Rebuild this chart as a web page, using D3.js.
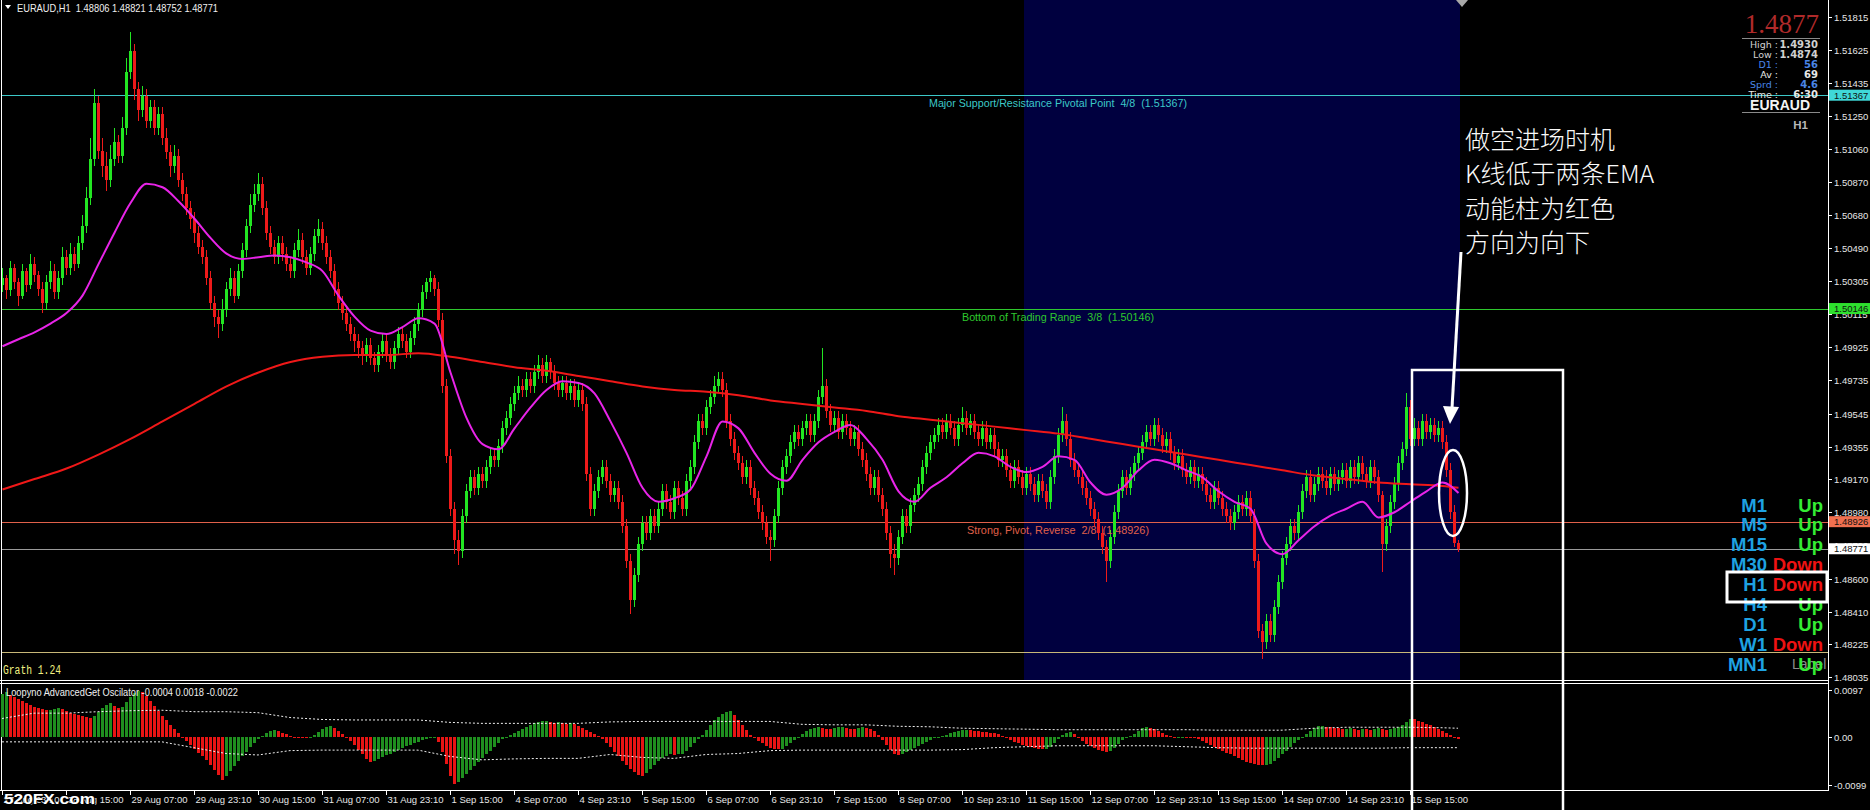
<!DOCTYPE html>
<html><head><meta charset="utf-8">
<script src="https://cdn.jsdelivr.net/npm/d3@7"></script>
<style>html,body{margin:0;padding:0;background:#000;overflow:hidden}svg{display:block}</style>
</head><body><svg id="c" width="1870" height="810"></svg>
<script>
// ---------- DATA (prices in pips above 1.48000) ----------
const BASE = 1.48, PIP = 0.0001;
const opens = [
228,232,225,238,230,222,236,228,240,234, 226,218,230,236,224,232,244,238,246,240,
252,262,278,300,332,305,296,288,300,310, 302,318,350,362,340,328,336,322,330,318,
326,312,304,296,302,288,280,272,266,258, 250,244,232,218,210,206,214,226,232,222,
236,248,262,274,280,286,272,258,250,244, 252,246,240,236,248,254,244,238,246,256,
260,252,244,236,226,218,212,206,200,196, 192,188,194,186,182,190,196,188,184,192,
200,196,190,198,206,214,224,230,232,226, 208,170,130,100,82,76,96,110,118,112,
120,116,124,130,128,136,146,152,160,166, 170,168,174,170,178,182,176,184,178,172,
168,172,166,170,162,168,160,120,100,110, 118,124,116,108,112,104,90,70,48,62,
80,92,86,96,90,100,110,104,98,112, 106,100,116,124,138,150,146,158,164,170,
174,168,150,140,132,126,118,124,112,106, 98,92,84,82,96,112,124,130,138,144,
140,146,150,142,150,164,170,156,148,152, 144,150,146,140,144,134,128,120,112,118,
108,100,86,74,72,84,96,90,102,108, 114,124,132,138,142,148,144,150,146,140,
148,152,146,150,144,140,146,138,142,134, 128,130,122,116,124,118,112,120,114,108,
116,110,104,118,130,142,150,140,128,122, 118,112,106,100,94,86,78,70,84,98,
110,118,112,120,126,132,138,144,140,148, 142,136,140,132,126,130,122,118,124,116,
120,114,108,104,112,106,100,96,92,98, 104,100,106,96,70,30,24,36,28,44,
58,72,80,90,86,98,110,118,108,114, 120,116,112,120,114,118,122,116,124,118,
126,120,116,124,118,108,80,90,104,114, 126,134,158,140,146,140,150,144,148,142,
146,138,122,98,80.6];
const highs = [
238,234,242,240,232,240,238,246,244,236, 230,234,242,240,236,250,248,252,250,256,
268,284,312,340,336,312,304,308,318,314, 324,358,373,366,344,342,340,334,334,330,
330,318,308,308,306,292,284,276,270,262, 254,248,236,222,214,220,230,238,236,240,
252,266,280,286,292,290,276,262,254,256, 256,250,244,252,260,258,248,250,260,266,
264,256,248,240,230,222,216,210,204,200, 196,198,198,190,194,200,200,192,196,204,
204,200,202,210,218,228,232,236,234,230, 212,174,134,104,88,100,114,122,122,124,
124,128,134,134,140,150,156,164,170,176, 174,178,178,182,188,186,188,186,182,176,
176,176,174,174,172,172,164,124,114,122, 128,128,120,116,116,108,94,74,66,84,
96,96,100,100,104,114,114,108,116,116, 110,120,128,142,154,154,162,168,176,178,
178,172,154,144,136,130,128,128,116,110, 102,96,88,100,116,128,134,142,148,148,
150,154,154,154,168,192,174,160,156,156, 154,154,150,148,148,138,132,124,122,122,
112,104,90,80,88,100,100,106,112,118, 128,136,142,146,152,152,154,154,150,152,
158,156,154,154,148,150,150,146,146,138, 134,134,126,128,128,122,124,124,118,120,
120,114,122,134,146,158,154,144,132,126, 122,116,110,104,98,90,82,88,102,114,
122,122,124,130,136,142,148,148,152,152, 146,144,144,136,134,134,126,128,128,124,
124,118,112,116,116,110,104,100,102,108, 108,110,110,100,74,34,40,40,48,62,
76,84,94,94,102,114,122,122,118,124, 124,122,124,124,122,126,126,128,128,130,
130,124,128,128,122,110,94,108,118,130, 138,166,162,152,150,154,154,152,152,150,
150,142,126,102,82.1];
const lows = [
224,220,222,226,216,220,224,226,230,222, 212,214,226,220,220,228,234,234,236,238,
248,258,274,296,300,290,282,284,296,298, 298,314,346,334,322,324,318,318,314,314,
308,300,290,292,284,276,268,260,252,246, 240,228,214,204,198,202,210,222,218,220,
232,244,258,270,276,268,254,246,240,240, 242,236,232,232,244,240,234,234,242,252,
248,240,232,222,214,208,202,196,190,186, 182,184,182,178,178,186,184,180,180,188,
192,186,186,194,202,210,220,224,222,204, 166,126,96,74,68,72,92,106,108,108,
112,112,120,124,124,132,142,148,156,162, 164,164,166,166,174,172,172,174,168,164,
164,162,162,158,158,156,116,96,96,106, 114,112,104,104,100,86,66,40,44,58,
76,82,82,86,86,96,100,94,94,102, 96,96,112,120,134,142,142,154,160,166,
164,146,136,128,122,114,114,108,102,94, 88,80,70,78,92,108,120,126,134,136,
136,142,138,138,146,160,152,144,144,140, 140,142,136,136,130,124,116,108,108,104,
96,82,66,62,68,80,86,86,98,104, 110,120,128,134,138,140,140,142,136,136,
144,142,142,140,136,136,134,134,130,124, 124,118,112,112,114,108,108,110,104,104,
106,100,100,114,126,138,136,124,118,114, 108,102,96,90,82,74,58,66,80,94,
106,108,108,116,122,128,134,136,136,138, 132,132,128,122,122,118,114,114,112,112,
110,104,100,100,102,96,92,88,88,94, 96,96,92,66,26,14,20,24,24,40,
54,68,76,82,82,94,106,104,104,110, 112,108,108,110,110,114,112,112,114,114,
116,112,112,114,104,64,76,86,100,110, 122,130,136,136,136,136,140,140,138,138,
134,118,94,78,75.2];
const closes = [
232,225,238,230,222,236,228,240,234,226, 218,230,236,224,232,244,238,246,240,252,
262,278,300,332,305,296,288,300,310,302, 318,350,362,340,328,336,322,330,318,326,
312,304,296,302,288,280,272,266,258,250, 244,232,218,210,206,214,226,232,222,236,
248,262,274,280,286,272,258,250,244,252, 246,240,236,248,254,244,238,246,256,260,
252,244,236,226,218,212,206,200,196,192, 188,194,186,182,190,196,188,184,192,200,
196,190,198,206,214,224,230,232,226,208, 170,130,100,82,76,96,110,118,112,120,
116,124,130,128,136,146,152,160,166,170, 168,174,170,178,182,176,184,178,172,168,
172,166,170,162,168,160,120,100,110,118, 124,116,108,112,104,90,70,48,62,80,
92,86,96,90,100,110,104,98,112,106, 100,116,124,138,150,146,158,164,170,174,
168,150,140,132,126,118,124,112,106,98, 92,84,82,96,112,124,130,138,144,140,
146,150,142,150,164,170,156,148,152,144, 150,146,140,144,134,128,120,112,118,108,
100,86,74,72,84,96,90,102,108,114, 124,132,138,142,148,144,150,146,140,148,
152,146,150,144,140,146,138,142,134,128, 130,122,116,124,118,112,120,114,108,116,
110,104,118,130,142,150,140,128,122,118, 112,106,100,94,86,78,70,84,98,110,
118,112,120,126,132,138,144,140,148,142, 136,140,132,126,130,122,118,124,116,120,
114,108,104,112,106,100,96,92,98,104, 100,106,96,70,30,24,36,28,44,58,
72,80,90,86,98,110,118,108,114,120, 116,112,120,114,118,122,116,124,118,126,
120,116,124,118,108,80,90,104,114,126, 134,158,140,146,140,150,144,148,142,146,
138,122,98,80.6,77.1];
// slow EMA (red), one value every 8 bars, last value on the last bar
const emaSlow = [111,117,123,131,140,150,160,170,178,184,187,188,188,189,187,184,181,179,176,173,170,168,167,165,162,160,158,156,153,151,149,147,145,143,140,137,134,131,128,125,122,119,117,115,114,113,112];
// fast EMA (magenta), one value every 4 bars, last value on the last bar
const emaFast = [193,197,201,206,212,222,240,258,275,286, 284,276,266,255,246,243,244,245,244,241,
236,222,210,202,200,204,209,206,178,152, 137,134,146,158,168,173,172,166,150,132,
112,104,106,111,130,150,146,132,120,116, 128,138,144,148,140,128,110,104,112,118,
126,132,130,124,121,124,130,128,115,108, 112,122,128,126,122,118,110,104,100,80,
74,82,90,96,100,104,95,98,104,110, 115,109];
// oscillator histogram, pips, one per bar
const osc = [
88,92,86,82,78,74,70,66,62,60, 57,55,56,58,60,57,53,50,48,46,
44,42,40,44,52,60,66,70,64,60, 62,72,82,90,95,92,84,74,64,54,
44,34,25,16,8,0,-8,-16,-24,-32, -40,-48,-58,-68,-78,-89,-80,-70,-60,-50,
-40,-30,-20,-12,-5,2,8,12,15,12, 9,6,3,1,-1,-2,-3,-1,4,10,
16,20,22,18,12,7,0,-8,-16,-26, -36,-46,-52,-50,-46,-42,-38,-34,-30,-26,
-22,-19,-16,-13,-10,-7,-4,-2,0,-10, -30,-55,-80,-97,-92,-85,-76,-68,-60,-52,
-44,-36,-28,-20,-12,-4,0,4,8,12, 16,20,24,28,30,32,33,30,28,31,
29,26,28,26,22,18,14,10,6,2, -5,-12,-20,-30,-40,-50,-58,-65,-72,-78,
-80,-74,-66,-58,-50,-44,-40,-36,-38,-36, -34,-28,-20,-12,-4,4,14,24,34,42,
48,52,53,45,35,25,15,5,-2,-8, -13,-18,-22,-24,-25,-24,-18,-12,-6,0,
6,12,16,18,20,19,17,16,18,20, 21,19,17,16,18,20,19,16,12,4,
-6,-16,-26,-34,-37,-34,-30,-26,-22,-18, -14,-10,-6,-3,-1,2,5,8,11,13,
14,15,14,13,12,11,10,9,8,6, 3,-2,-6,-10,-13,-16,-19,-21,-23,-24,
-25,-24,-20,-12,-4,4,8,10,6,-2, -8,-14,-19,-23,-26,-28,-30,-28,-22,-14,
-6,-2,2,6,12,18,20,19,16,12, 8,5,2,-1,0,1,-1,-2,-3,-5,
-8,-12,-16,-20,-24,-28,-32,-36,-40,-44, -48,-52,-54,-56,-57,-58,-58,-55,-50,-44,
-36,-28,-20,-12,-6,0,6,12,18,22, 22,21,20,19,18,16,17,18,16,15,
17,16,15,17,18,16,15,17,18,20, 24,30,37,36,33,30,27,24,20,16,
12,8,4,0,-4];
// oscillator bands, one value every 8 bars, last value on the last bar
const oscUpper = [38,49,49,52,54,55,52,52,50,40,36,35,35,35,30,28,28,28,28,31,32,32,32,32,32,26,25,25,22,21,18,17,16,15,15,15,15,15,14,14,14,18,20,20,20,19,18];
const oscLower = [-10,-10,-10,-10,-10,-10,-22,-34,-37,-28,-27,-27,-27,-27,-40,-47,-45,-44,-44,-36,-42,-44,-36,-34,-28,-27,-27,-27,-27,-27,-26,-22,-20,-18,-18,-18,-18,-20,-22,-23,-23,-23,-23,-23,-22,-22,-22];

const timeLabels = ["27 Aug 23:10","28 Aug 15:00","29 Aug 07:00","29 Aug 23:10","30 Aug 15:00","31 Aug 07:00","31 Aug 23:10","1 Sep 15:00","4 Sep 07:00","4 Sep 23:10","5 Sep 15:00","6 Sep 07:00","6 Sep 23:10","7 Sep 15:00","8 Sep 07:00","10 Sep 23:10","11 Sep 15:00","12 Sep 07:00","12 Sep 23:10","13 Sep 15:00","14 Sep 07:00","14 Sep 23:10","15 Sep 15:00"];
const barsPerLabel = 16;
const priceTicks = [1.51815,1.51625,1.51435,1.51250,1.51060,1.50870,1.50680,1.50490,1.50305,1.50115,1.49925,1.49735,1.49545,1.49355,1.49170,1.48980,1.48790,1.48600,1.48410,1.48225,1.48035];
const oscTicks = [0.0097, 0.0, -0.0099];
const oscTickLabels = ["0.0097","0.00","-0.0099"];
const levels = [
  {p:1.51367, color:"#3cc8c8", label:"Major Support/Resistance Pivotal Point  4/8  (1.51367)", box:"#3fd8d8"},
  {p:1.50146, color:"#2ec82e", label:"Bottom of Trading Range  3/8  (1.50146)", box:"#2ee02e"},
  {p:1.48926, color:"#e0604a", label:"Strong, Pivot, Reverse  2/8  (1.48926)", box:"#f07050"},
  {p:1.48771, color:"#9a9a9a", label:null, box:"#ffffff"},
  {p:1.48180, color:"#c8b878", label:null, box:null}
];
const sessionBars = [256, 364];
const tfNames = ["M1","M5","M15","M30","H1","H4","D1","W1","MN1"];
const tfTrend = ["Up","Up","Up","Down","Down","Up","Up","Down","Up"];
const infoLabels = ["High :","Low :","D1 :","Av :","Sprd :","Time :"];
const infoValues = ["1.4930","1.4874","56","69","4.6","6:30"];
const infoColors = ["#d0d0d0","#d0d0d0","#4a86e8","#e8e8e8","#4a86e8","#e8e8e8"];
const noteLines = ["做空进场时机","K线低于两条EMA","动能柱为红色","方向为向下"];

// ---------- DRAWING ----------
const P = v => BASE + v * PIP;
const svg = d3.select("#c");
svg.append("rect").attr("width",1870).attr("height",810).attr("fill","#000");
const N = closes.length;
const x = d3.scaleLinear().domain([0,457]).range([2,1830]);
const y = d3.scaleLinear().domain([1.48014,1.51912]).range([681,0]);
const yo = d3.scaleLinear().domain([-0.0109,0.0111]).range([790,683]);
const SANS = "'Liberation Sans', Arial, sans-serif";

svg.append("defs").append("clipPath").attr("id","mainclip").append("rect").attr("x",2).attr("y",0).attr("width",1826).attr("height",680);
const main = svg.append("g").attr("clip-path","url(#mainclip)");

// session shading
main.append("rect").attr("x",x(sessionBars[0])-2).attr("y",0)
  .attr("width",x(sessionBars[1])-x(sessionBars[0])+4).attr("height",681).attr("fill","#00003f");

// level lines
levels.forEach(l=>{
  main.append("line").attr("x1",0).attr("x2",1828).attr("y1",Math.round(y(l.p))+0.5).attr("y2",Math.round(y(l.p))+0.5)
    .attr("stroke",l.color).attr("stroke-width",1);
});

// candles
const cg = main.append("g").attr("shape-rendering","crispEdges");
for(let i=0;i<N;i++){
  const o=P(opens[i]), c=P(closes[i]);
  const hi=P(Math.max(highs[i],opens[i],closes[i])), lo=P(Math.min(lows[i],opens[i],closes[i]));
  const col = c>=o ? "#22e622" : "#ee1a1a";
  const xc = x(i);
  cg.append("rect").attr("x",xc).attr("y",y(hi)).attr("width",1).attr("height",Math.max(1,y(lo)-y(hi))).attr("fill",col);
  const top=y(Math.max(o,c)), bot=y(Math.min(o,c));
  cg.append("rect").attr("x",xc-1).attr("y",top).attr("width",3).attr("height",Math.max(1,bot-top)).attr("fill",col);
}

// EMAs
const barOf = (i,step)=>Math.min(i*step,N-1);
const line = d3.line().curve(d3.curveMonotoneX);
main.append("path").attr("d",line(emaSlow.map((v,i)=>[x(barOf(i,8))+0.5,y(P(v))])))
  .attr("fill","none").attr("stroke","#f01818").attr("stroke-width",2);
main.append("path").attr("d",line(emaFast.map((v,i)=>[x(barOf(i,4))+0.5,y(P(v))])))
  .attr("fill","none").attr("stroke","#e824e8").attr("stroke-width",2);

// level labels
function tl(g,xx,yy,s,o){
  const t=g.append("text").attr("x",xx).attr("y",yy).text(s)
    .attr("font-family",o.family||SANS).attr("font-size",o.size||11).attr("fill",o.fill||"#fff")
    .style("white-space","pre");
  if(o.anchor) t.attr("text-anchor",o.anchor);
  if(o.weight) t.attr("font-weight",o.weight);
  if(o.len){ t.attr("textLength",o.len).attr("lengthAdjust","spacingAndGlyphs"); }
  return t;
}
const lvlLen = [258,192,182];
levels.forEach((l,i)=>{
  if(!l.label) return;
  tl(main,1058-lvlLen[i]/2,y(l.p)+12,l.label,{size:10.5,fill:l.color,len:lvlLen[i]});
});

// panel frames
const fr = svg.append("g").attr("fill","none").attr("stroke","#fff").attr("stroke-width",1).attr("shape-rendering","crispEdges");
fr.append("line").attr("x1",1.5).attr("x2",1.5).attr("y1",0).attr("y2",790);
fr.append("line").attr("x1",0).attr("x2",1829).attr("y1",680.5).attr("y2",680.5);
fr.append("line").attr("x1",0).attr("x2",1829).attr("y1",683.5).attr("y2",683.5);
fr.append("line").attr("x1",0).attr("x2",1829).attr("y1",790.5).attr("y2",790.5);
fr.append("line").attr("x1",1828.5).attr("x2",1828.5).attr("y1",0).attr("y2",791);

// price axis
priceTicks.forEach(p=>{
  const yy=Math.round(y(p))+0.5;
  svg.append("line").attr("x1",1829).attr("x2",1832).attr("y1",yy).attr("y2",yy).attr("stroke","#fff");
  tl(svg,1834,yy+3.5,p.toFixed(5),{size:9.5,fill:"#e6e6e6"});
});
levels.forEach(l=>{
  if(!l.box) return;
  const yy=y(l.p);
  svg.append("rect").attr("x",1829).attr("y",yy-5.5).attr("width",41).attr("height",11).attr("fill",l.box);
  tl(svg,1834,yy+3.5,l.p.toFixed(5),{size:9.5,fill:"#101010"});
});

// oscillator
const og = svg.append("g").attr("shape-rendering","crispEdges");
for(let i=0;i<N;i++){
  const v=osc[i]*PIP, prev = i>0?osc[i-1]:osc[i]-1;
  const col = osc[i]>=prev ? "#1f8f1f" : "#e81414";
  const y0=yo(0), y1=yo(v);
  og.append("rect").attr("x",x(i)-1).attr("y",Math.min(y0,y1)).attr("width",3).attr("height",Math.max(1,Math.abs(y1-y0))).attr("fill",col);
}
[oscUpper,oscLower].forEach(arr=>{
  svg.append("path").attr("d",d3.line()(arr.map((v,i)=>[x(barOf(i,8)),yo(v*PIP)])))
    .attr("fill","none").attr("stroke","#f0f0f0").attr("stroke-width",1).attr("stroke-dasharray","2,2");
});
oscTicks.forEach((t,i)=>{
  const yy=Math.round(yo(t))+0.5;
  svg.append("line").attr("x1",1829).attr("x2",1832).attr("y1",yy).attr("y2",yy).attr("stroke","#fff");
  tl(svg,1834,yy+3.5,oscTickLabels[i],{size:9.5,fill:"#e6e6e6"});
});
tl(svg,6,696,"Loopyno AdvancedGet Oscilator -0.0004 0.0018 -0.0022",{size:10.5,fill:"#f0f0f0",len:232});

// time axis
timeLabels.forEach((s,k)=>{
  const xx=Math.round(x(k*barsPerLabel))+0.5;
  svg.append("line").attr("x1",xx).attr("x2",xx).attr("y1",791).attr("y2",795).attr("stroke","#fff");
  tl(svg,xx+1,803,s,{size:9.5,fill:"#e6e6e6"});
});
tl(svg,5,805,"520FX.com",{size:15,weight:"bold",fill:"#000",len:91});
tl(svg,4,804,"520FX.com",{size:15,weight:"bold",fill:"#fff",len:91});

// header
svg.append("path").attr("d","M5,5 L11,5 L8,9 Z").attr("fill","#fff");
tl(svg,17,11.5,"EURAUD,H1  1.48806 1.48821 1.48752 1.48771",{size:10.5,fill:"#f0f0f0",len:201});
tl(svg,3,674,"Grath 1.24",{size:12,fill:"#f0f080",family:"'Liberation Mono', monospace",len:58});
svg.append("path").attr("d","M1456,0 L1468,0 L1462,7 Z").attr("fill","#a8a8a8");

// top-right info
tl(svg,1819,33,"1.4877",{size:27,fill:"#b02a2a",family:"'Liberation Serif', serif",anchor:"end"});
svg.append("line").attr("x1",1742).attr("x2",1820).attr("y1",38.5).attr("y2",38.5).attr("stroke","#8a8a8a");
infoLabels.forEach((s,i)=>{
  const yy=48+i*10;
  tl(svg,1778,yy,s,{size:9.5,fill:infoColors[i],anchor:"end",family:"'DejaVu Sans', sans-serif"});
  tl(svg,1818,yy,infoValues[i],{size:10,fill:infoColors[i],anchor:"end",family:"'DejaVu Sans', sans-serif",weight:"bold"});
});
tl(svg,1810,110,"EURAUD",{size:14,weight:"bold",fill:"#f4f4f4",anchor:"end"});
svg.append("line").attr("x1",1742).attr("x2",1820).attr("y1",112.5).attr("y2",112.5).attr("stroke","#8a8a8a");
tl(svg,1808,129,"H1",{size:11.5,weight:"bold",fill:"#b8b8b8",anchor:"end"});

// timeframe table
tl(svg,1792,669,"Label",{size:14,fill:"#8c8c8c"});
tfNames.forEach((s,i)=>{
  const yy=511.5+i*19.9;
  tl(svg,1767,yy,s,{size:18.5,weight:"bold",fill:"#1ea2e2",anchor:"end"});
  tl(svg,1823,yy,tfTrend[i],{size:18.5,weight:"bold",fill:tfTrend[i]==="Up"?"#34ec34":"#ee1212",anchor:"end"});
});
svg.append("rect").attr("x",1727).attr("y",572).attr("width",100).attr("height",30).attr("fill","none").attr("stroke","#fff").attr("stroke-width",3);

// annotation
const ann = svg.append("g");
ann.append("rect").attr("x",1412).attr("y",370).attr("width",151).attr("height",460).attr("fill","none").attr("stroke","#fff").attr("stroke-width",2.5);
ann.append("ellipse").attr("cx",1453).attr("cy",493).attr("rx",14).attr("ry",43).attr("fill","none").attr("stroke","#fff").attr("stroke-width",2.5);
ann.append("line").attr("x1",1461).attr("y1",252).attr("x2",1452).attr("y2",408).attr("stroke","#fff").attr("stroke-width",3);
ann.append("path").attr("d","M1443,406 L1459,407 L1450,424 Z").attr("fill","#fff");
noteLines.forEach((s,i)=>{
  tl(ann,1465,149+i*34.3,s,{size:25,fill:"#fafafa",family:"'Noto Sans CJK SC', sans-serif",weight:300});
});
</script></body></html>
